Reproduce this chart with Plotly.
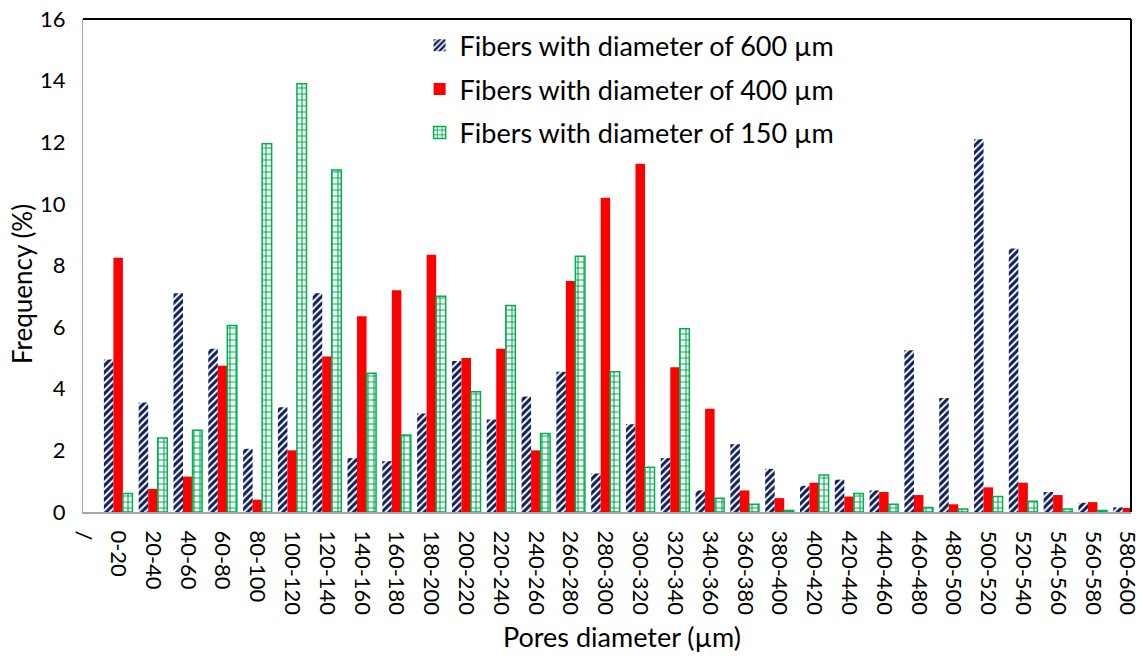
import plotly.graph_objects as go

categories = ["/", "0-20", "20-40", "40-60", "60-80", "80-100", "100-120", "120-140",
              "140-160", "160-180", "180-200", "200-220", "220-240", "240-260",
              "260-280", "280-300", "300-320", "320-340", "340-360", "360-380",
              "380-400", "400-420", "420-440", "440-460", "460-480", "480-500",
              "500-520", "520-540", "540-560", "560-580", "580-600"]

fibers_600 = [None, 4.95, 3.55, 7.1, 5.3, 2.05, 3.4, 7.1, 1.75, 1.65, 3.2, 4.9, 3.0,
              3.75, 4.55, 1.25, 2.85, 1.75, 0.7, 2.2, 1.4, 0.85, 1.05, 0.7, 5.25,
              3.7, 12.1, 8.55, 0.65, 0.3, 0.15]
fibers_400 = [None, 8.25, 0.75, 1.15, 4.75, 0.4, 2.0, 5.05, 6.35, 7.2, 8.35, 5.0, 5.3,
              2.0, 7.5, 10.2, 11.3, 4.7, 3.35, 0.7, 0.45, 0.95, 0.5, 0.65, 0.55,
              0.25, 0.8, 0.95, 0.55, 0.32, 0.13]
fibers_150 = [None, 0.6, 2.4, 2.65, 6.05, 11.95, 13.9, 11.1, 4.5, 2.5, 7.0, 3.9, 6.7,
              2.55, 8.3, 4.55, 1.45, 5.95, 0.45, 0.25, 0.05, 1.2, 0.6, 0.25, 0.15,
              0.1, 0.5, 0.35, 0.1, 0.05, 0.05]

names = ["Fibers with diameter of 600 µm",
         "Fibers with diameter of 400 µm",
         "Fibers with diameter of 150 µm"]
x_title = "Pores diameter (µm)"
y_title = "Frequency (%)"

FONT = "Lato"
NAVY = "#0E1F5B"
RED = "#FF0000"
GREEN = "#00B050"

fig = go.Figure()
fig.add_trace(go.Bar(
    x=categories, y=fibers_600, name=names[0], legend="legend",
    marker=dict(color="white", line=dict(width=0),
                pattern=dict(shape="/", fgcolor=NAVY, bgcolor="white",
                             size=5, solidity=0.6, fillmode="replace")),
))
fig.add_trace(go.Bar(
    x=categories, y=fibers_400, name=names[1], legend="legend2",
    marker=dict(color=RED, line=dict(width=0)),
))
fig.add_trace(go.Bar(
    x=categories, y=fibers_150, name=names[2], legend="legend3",
    marker=dict(color="white", line=dict(width=1.5, color=GREEN),
                pattern=dict(shape="+", fgcolor=GREEN, bgcolor="white",
                             size=6, solidity=0.35, fillmode="replace")),
))

legend_common = dict(x=0.3212, xanchor="left", yanchor="middle",
                     font=dict(family=FONT, size=27, color="#000000"),
                     bgcolor="rgba(0,0,0,0)", borderwidth=0)

fig.update_layout(
    width=1143, height=659,
    margin=dict(l=83, r=12, t=19, b=147),
    paper_bgcolor="white", plot_bgcolor="white",
    barmode="group", bargap=0.18, bargroupgap=0,
    font=dict(family=FONT, size=22, color="#000000"),
    showlegend=True,
    legend=dict(y=0.946, **legend_common),
    legend2=dict(y=0.857, **legend_common),
    legend3=dict(y=0.769, **legend_common),
    xaxis=dict(
        type="category", range=[-0.01, 30.1], tickangle=90,
        tickfont=dict(family=FONT, size=22), ticks="", showgrid=False,
        ticklabelstandoff=12, automargin=False,
        showline=True, linecolor="#A6A6A6", linewidth=2, mirror=False,
    ),
    yaxis=dict(
        range=[0, 16], dtick=2, tick0=0, ticks="", showgrid=False,
        tickfont=dict(family=FONT, size=22), ticklabelstandoff=12,
        showline=True, linecolor="#A6A6A6", linewidth=1,
        zeroline=False, automargin=False,
    ),
    annotations=[
        dict(text=x_title, xref="paper", yref="paper", x=0.5143, y=-0.2535,
             xanchor="center", yanchor="middle", showarrow=False,
             font=dict(family=FONT, size=27, color="#000000")),
        dict(text=y_title, xref="paper", yref="paper", x=-0.0582, y=0.4625,
             xanchor="center", yanchor="middle", showarrow=False, textangle=-90,
             font=dict(family=FONT, size=26, color="#000000")),
    ],
    shapes=[
        dict(type="line", xref="paper", yref="paper", x0=0, x1=1, y0=1, y1=1,
             line=dict(color="#000000", width=2)),
        dict(type="line", xref="paper", yref="paper", x0=1, x1=1, y0=0, y1=1,
             line=dict(color="#000000", width=2)),
    ],
)

fig.write_html("out.html")
